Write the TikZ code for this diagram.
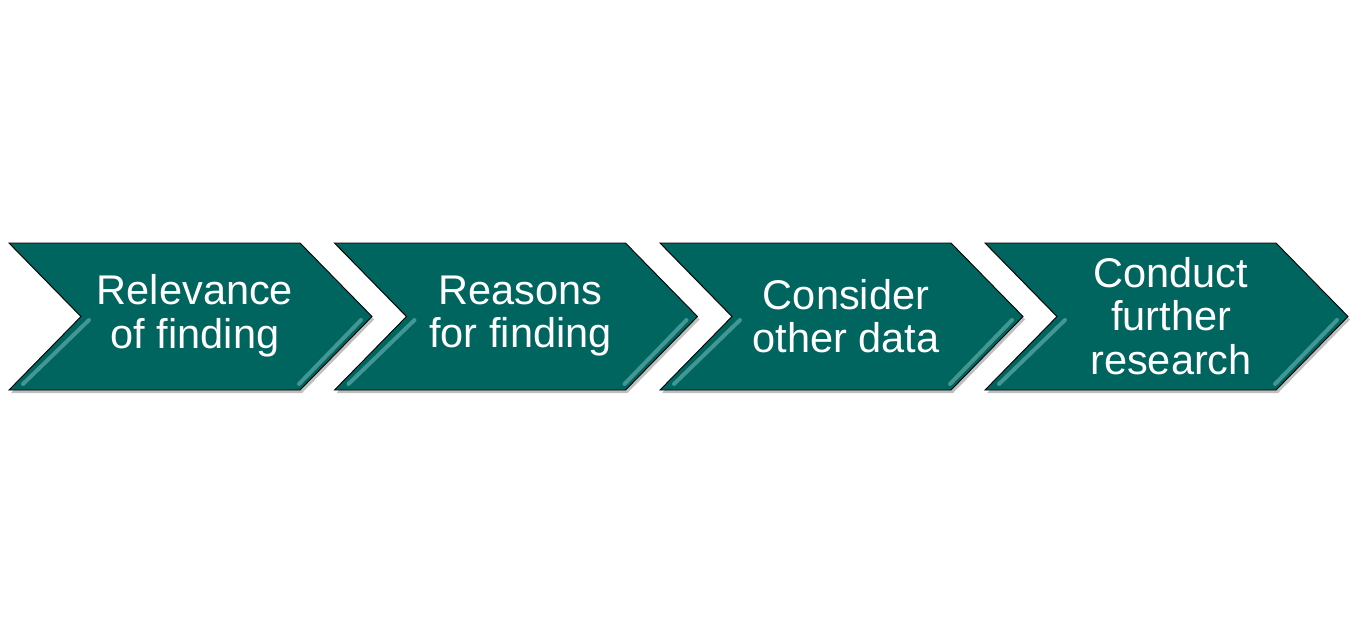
\documentclass[tikz,border=0pt]{standalone}
\usepackage{fontspec}
\setmainfont{Liberation Sans}
\definecolor{stepteal}{RGB}{0,100,95}
\definecolor{steplight}{RGB}{110,185,180}
\tikzset{
  chevron/.style={fill=stepteal, draw=black, line width=0.9pt, line join=miter},
  chevshadow/.style={fill=black, opacity=0.25},
  bevel/.style={draw=steplight, line width=4pt, line cap=round, opacity=0.6},
  steplabel/.style={text=white, align=center, inner sep=0pt,
    font=\fontsize{41.5}{43.5}\selectfont}
}
\begin{document}
\begin{tikzpicture}[x=1pt, y=-1pt]
        \useasboundingbox (0,0) rectangle (1356,633);
        \foreach \x/\txt [count=\i] in {9/{Relevance\\of finding}, 334.5/{Reasons\\for finding}, 660/{Consider\\other data}, 985/{Conduct\\further\\research}} {
            \fill[chevshadow] (\x+2,246) -- ++(291,0) -- ++(72,73.5) -- ++(-72,73.5) -- ++(-291,0) -- ++(72,-73.5) -- cycle;
            \filldraw[chevron] (\x,243) -- ++(291,0) -- ++(72,73.5) -- ++(-72,73.5) -- ++(-291,0) -- ++(72,-73.5) -- cycle;
            \draw[bevel] (\x+80,320) -- (\x+14,384);
            \draw[bevel] (\x+352,320) -- (\x+290,384);
            \node[steplabel] (step\i) at (\x+186,316) {\txt};
        }
    \end{tikzpicture}
\end{document}
